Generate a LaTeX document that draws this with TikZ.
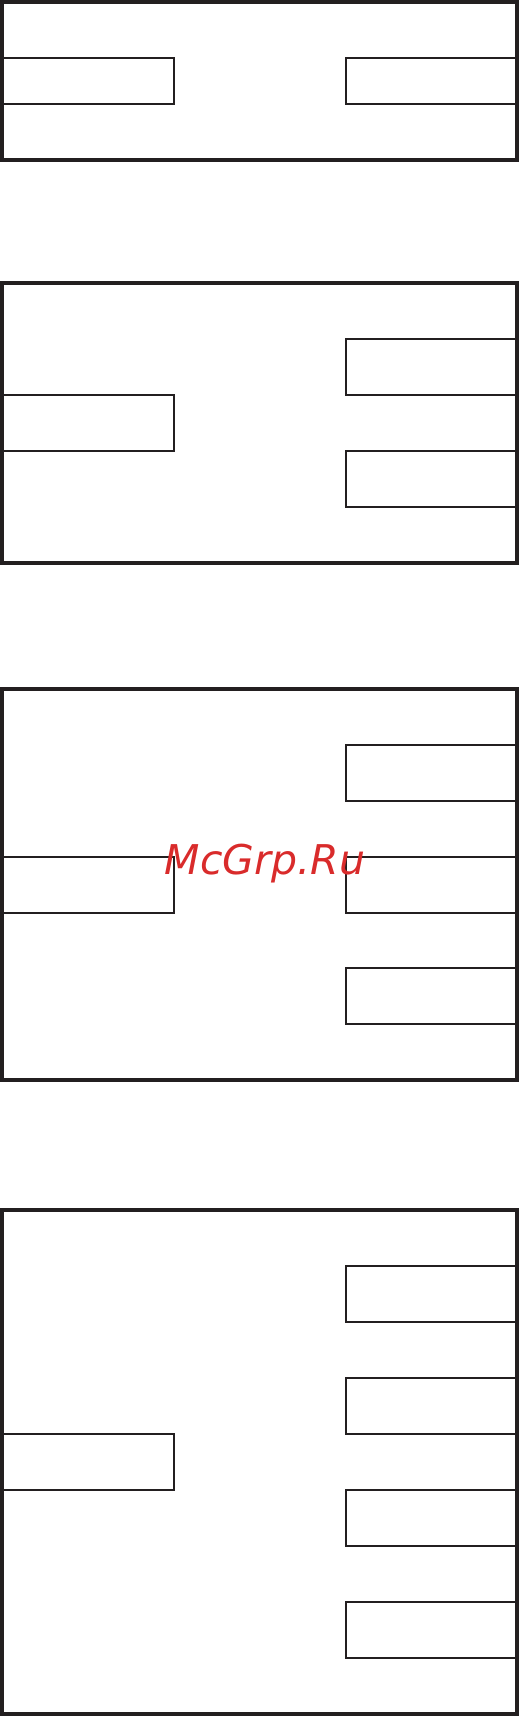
\documentclass[tikz,border=0pt]{standalone}
\usepackage{fontspec}
\newfontfamily\wmfont{DejaVu Sans}
\definecolor{ink}{HTML}{231F20}
\definecolor{wmred}{HTML}{D92B2B}
\begin{document}
\begin{tikzpicture}[x=1pt,y=-1pt,
  frame/.style={draw=ink,line width=3.7pt},
  pad/.style={draw=ink,line width=1.7pt}]
\useasboundingbox (0,0) rectangle (519,1716);
% panel 1
\draw[frame] (2,2) rectangle (517,160);
\draw[pad] (2,58) rectangle (174,104);
\draw[pad] (517,58) rectangle (346,104);
% panel 2
\draw[frame] (2,283) rectangle (517,563);
\draw[pad] (2,395) rectangle (174,451);
\draw[pad] (517,339) rectangle (346,395);
\draw[pad] (517,451) rectangle (346,507);
% panel 3
\draw[frame] (2,689) rectangle (517,1080);
\draw[pad] (2,857) rectangle (174,913);
\draw[pad] (517,745) rectangle (346,801);
\draw[pad] (517,857) rectangle (346,913);
\draw[pad] (517,968) rectangle (346,1024);
% panel 4
\draw[frame] (2,1210) rectangle (517,1714);
\draw[pad] (2,1434) rectangle (174,1490);
\draw[pad] (517,1266) rectangle (346,1322);
\draw[pad] (517,1378) rectangle (346,1434);
\draw[pad] (517,1490) rectangle (346,1546);
\draw[pad] (517,1602) rectangle (346,1658);
% watermark
\node[anchor=base,inner sep=0pt,text=wmred,font=\wmfont\itshape\fontsize{41}{41}\selectfont] (wm) at (265,874) {McGrp.Ru};
\end{tikzpicture}
\end{document}
